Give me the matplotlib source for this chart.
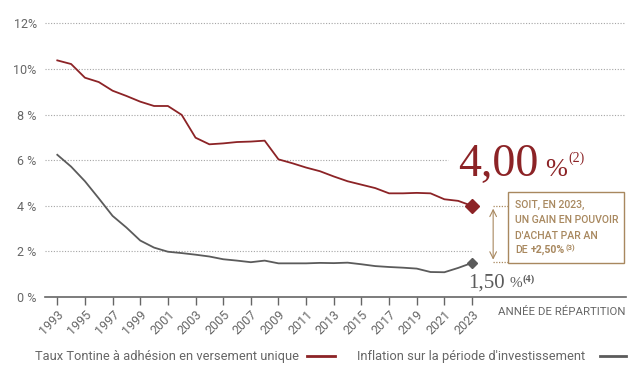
import matplotlib.pyplot as plt
from matplotlib.lines import Line2D
from matplotlib.patches import Rectangle

# Données
annees = list(range(1993, 2024))
taux_tontine = [10.38, 10.22, 9.62, 9.43, 9.05, 8.82, 8.57, 8.38, 8.38, 7.99,
                6.99, 6.70, 6.74, 6.80, 6.82, 6.86, 6.04, 5.87, 5.68, 5.52,
                5.29, 5.08, 4.93, 4.78, 4.55, 4.55, 4.57, 4.55, 4.29, 4.22, 4.00]
inflation = [6.24, 5.72, 5.08, 4.33, 3.56, 3.05, 2.48, 2.17, 1.99, 1.93,
             1.86, 1.78, 1.66, 1.60, 1.53, 1.60, 1.48, 1.48, 1.48, 1.50,
             1.49, 1.51, 1.44, 1.36, 1.32, 1.29, 1.25, 1.10, 1.09, 1.28, 1.50]
ticks_x = list(range(1993, 2024, 2))
ticks_y = [0, 2, 4, 6, 8, 10, 12]
labels_y = ["0 %", "2 %", "4 %", "6 %", "8 %", "10%", "12%"]

rouge = "#8c2326"
gris = "#5b5b5b"
beige = "#a8885f"
gris_txt = "#666666"
sans = ["Roboto", "DejaVu Sans"]
serif = ["Liberation Serif", "DejaVu Serif"]

fig = plt.figure(figsize=(6.37, 3.79), dpi=100)
ax = fig.add_axes([45 / 637, 81.9 / 379, 581 / 637, 282.1 / 379])
ax.set_xlim(1992.11, 2034.14)
ax.set_ylim(0, 12.37)

# Grille pointillée
for v in [2, 4, 6, 8, 10, 12]:
    fin = 2034.0
    if v == 6:
        fin = 2021.25
    elif v in (2, 4):
        fin = 2023
    ax.hlines(v, 1992.11, fin, colors="#a5a5a5", linestyles=(0, (1, 1.5)), lw=0.8, zorder=1)

# Courbes
ax.plot(annees, taux_tontine, color=rouge, lw=1.3, zorder=3)
ax.plot(annees, inflation, color=gris, lw=1.3, zorder=3)
ax.plot(annees[-1], taux_tontine[-1], marker="D", ms=7.5, color=rouge, zorder=4)
ax.plot(annees[-1], inflation[-1], marker="D", ms=5, color=gris, zorder=4)

# Axes
for s in ["left", "right", "top"]:
    ax.spines[s].set_visible(False)
ax.spines["bottom"].set_color(gris_txt)
ax.spines["bottom"].set_linewidth(1.2)
ax.set_xticks(ticks_x)
ax.set_xticklabels([str(a) for a in ticks_x], rotation=45, ha="right", va="top",
                   rotation_mode="anchor", family=sans, fontsize=9, color=gris_txt)
ax.tick_params(axis="x", length=6, width=1, color=gris_txt, pad=2)
ax.set_yticks(ticks_y)
ax.set_yticklabels(labels_y, family=sans, fontsize=9, color=gris_txt)
ax.tick_params(axis="y", length=0, pad=6)

ax.text(2034.1, -0.64, "ANNÉE DE RÉPARTITION", ha="right", va="center",
        family=sans, fontsize=8.2, color=gris_txt, clip_on=False)

# Annotations des valeurs finales
t1 = ax.text(2022.0, 5.31, "4,00", family=serif, fontsize=33, color=rouge, va="baseline")
t2 = ax.annotate("%", xy=(1, 5.31), xycoords=(t1, "data"), xytext=(5, 0),
                 textcoords="offset points", family=serif, fontsize=19, color=rouge,
                 va="baseline")
ax.annotate("(2)", xy=(1, 5.95), xycoords=(t2, "data"), xytext=(0.5, 0),
            textcoords="offset points", family=serif, fontsize=10, color=rouge,
            va="baseline")
t3 = ax.text(2022.75, 0.43, "1,50", family=serif, fontsize=15, color=gris, va="baseline",
             clip_on=False)
t4 = ax.annotate("%", xy=(1, 0.43), xycoords=(t3, "data"), xytext=(3, 0),
                 textcoords="offset points", family=serif, fontsize=11, color=gris,
                 va="baseline")
ax.annotate("(4)", xy=(1, 0.66), xycoords=(t4, "data"), xytext=(0.5, 0),
            textcoords="offset points", family=serif, fontsize=7.5, color=gris,
            va="baseline", fontweight="bold")

# Flèche et encadré
x_fl = 2024.53
ax.annotate("", xy=(x_fl, 1.52), xytext=(x_fl, 4.0),
            arrowprops=dict(arrowstyle="<->", color=beige, lw=0.8, mutation_scale=12))
ax.hlines([4.0, 1.52], x_fl, 2025.6, colors=beige, linestyles=(0, (1, 1.2)), lw=0.9)
ax.add_patch(Rectangle((2025.6, 1.49), 8.4, 3.12, fill=False, ec=beige, lw=1.0,
                       clip_on=False, zorder=5))
lignes = ["SOIT, EN 2023,", "UN GAIN EN POUVOIR", "D'ACHAT PAR AN"]
y_lignes = [4.04, 3.36, 2.70, 2.06]
for l, y in zip(lignes, y_lignes):
    ax.text(2026.12, y, l, family=sans, fontsize=7.6, color=beige,
            va="center", fontweight="medium")
t5 = ax.text(2026.12, y_lignes[3], "DE", family=sans, fontsize=7.6, color=beige,
             va="center", fontweight="medium")
t6 = ax.annotate("+2,50%", xy=(1, 0.5), xycoords=t5, xytext=(2, 0),
                 textcoords="offset points", family=sans, fontsize=7.6, color=beige,
                 va="center", fontweight="bold")
ax.annotate("(3)", xy=(1, 0.68), xycoords=t6, xytext=(0.5, 0),
            textcoords="offset points", family=sans, fontsize=5.5, color=beige,
            va="center", fontweight="bold")

# Légende
y_leg = (379 - 356.3) / 379
fig.text(35 / 637, y_leg, "Taux Tontine à adhésion en versement unique", family=sans,
         fontsize=9.3, color=gris_txt, va="center")
fig.add_artist(Line2D([307 / 637, 335 / 637], [y_leg, y_leg], color=rouge, lw=2))
fig.text(357 / 637, y_leg, "Inflation sur la période d'investissement", family=sans,
         fontsize=9.3, color=gris_txt, va="center")
fig.add_artist(Line2D([600 / 637, 626 / 637], [y_leg, y_leg], color=gris, lw=2))

fig.savefig("out.png", dpi=100)
